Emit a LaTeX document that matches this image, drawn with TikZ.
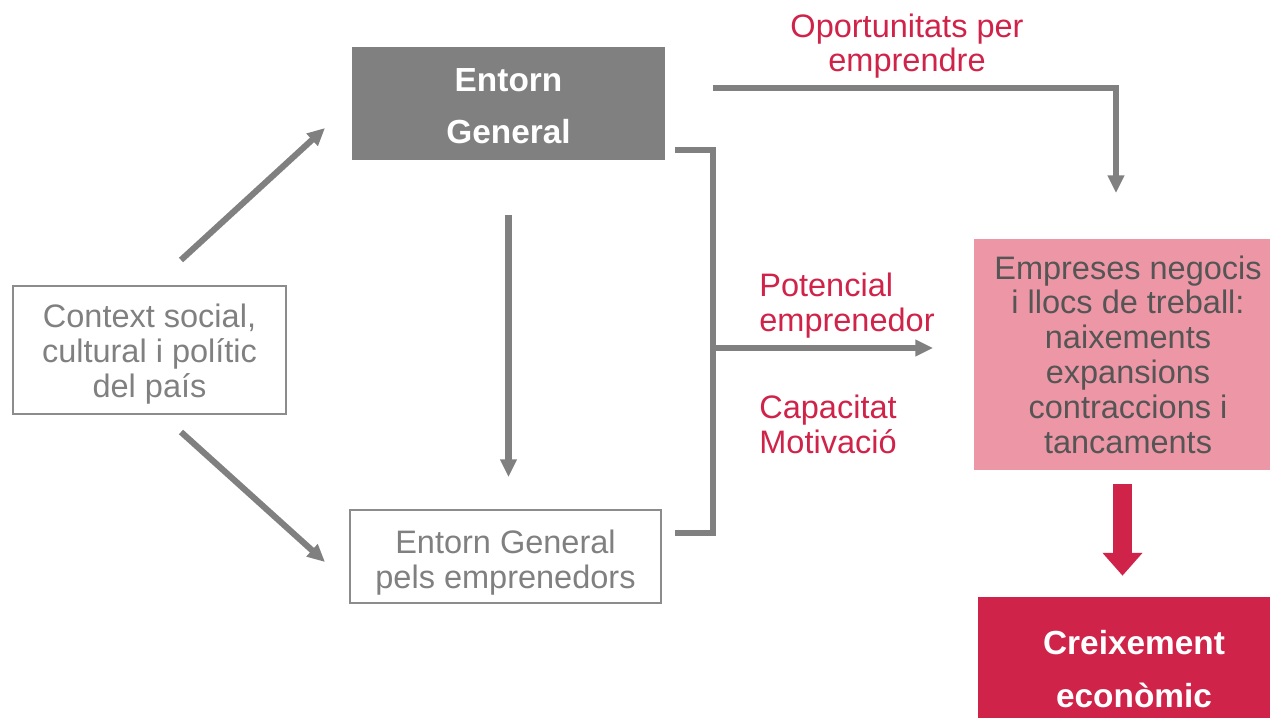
\documentclass[tikz,border=0pt]{standalone}
\usepackage{fontspec}
\setmainfont{Liberation Sans}
\usetikzlibrary{arrows.meta}
\definecolor{egray}{RGB}{128,128,128}
\definecolor{boxgray}{RGB}{140,140,140}
\definecolor{ered}{RGB}{208,35,73}
\definecolor{epink}{RGB}{237,151,166}
\definecolor{etext}{RGB}{85,85,85}
\newcommand{\toppad}[1][20pt]{\rule{0pt}{#1}}

\begin{document}
\begin{tikzpicture}[x=0.02cm,y=-0.02cm,
    darkbox/.style={rectangle,fill=egray,text=white,inner sep=0pt,align=center,
        font=\bfseries\fontsize{19}{30}\selectfont},
    linebox/.style={rectangle,draw=boxgray,line width=1.1pt,text=egray,inner sep=0pt,
        align=center,font=\fontsize{18.5}{19.8}\selectfont},
    redlabel/.style={text=ered,inner sep=0pt,font=\fontsize{18.5}{19.8}\selectfont},
    flow/.style={draw=egray,line width=3.5pt,-{Triangle[length=10pt,width=9pt]}},
    bracket/.style={draw=egray,line width=3.5pt,line join=miter}]
\clip (0,0) rectangle (1270,717);

% Boxes
\node[darkbox,minimum width=6.26cm,minimum height=2.26cm] (eg) at (508.5,103.5) {\toppad[16pt]Entorn\\General};
\node[linebox,minimum width=5.46cm,minimum height=2.56cm] (ctx) at (149.5,350) {\toppad[18pt]Context social,\\cultural i polític\\del país};
\node[linebox,minimum width=6.22cm,minimum height=1.86cm] (pels) at (505.5,556.5) {\toppad Entorn General\\pels emprenedors};
\node[rectangle,fill=epink,text=etext,inner sep=0pt,align=center,font=\fontsize{18.5}{19.8}\selectfont,
    minimum width=6.16cm,minimum height=4.62cm] (emp) at (1128,354.5)
    {Empreses negocis\\i llocs de treball:\\naixements\\expansions\\contraccions i\\tancaments};
\node[darkbox,fill=ered,minimum width=6.24cm,minimum height=2.8cm] (creix) at (1134,667) {\toppad[16pt]Creixement\\econòmic};

% Labels
\node[redlabel,align=center] (oport) at (907,46) {Oportunitats per\\emprendre};
\node[redlabel,align=left,anchor=west] (pot) at (759,305.5) {Potencial\\emprenedor};
\node[redlabel,align=left,anchor=west] (cap) at (759,424.5) {Capacitat\\Motivació};

% Connector ends
\coordinate (up1) at (181,260);
\coordinate (up2) at (325,128);
\coordinate (dn1) at (181,432);
\coordinate (dn2) at (325,562);
\coordinate (br1) at (675,150);
\coordinate (br2) at (675,533);
\coordinate (brm) at (713,348);
\coordinate (brend) at (933,348);
\coordinate (op1) at (713,88);
\coordinate (op2) at (1116,193);

% Arrows
\draw[flow] (up1) -- (up2);
\draw[flow] (dn1) -- (dn2);
\draw[flow,shorten <=1.1cm,shorten >=0.64cm] (eg.south) -- (eg.south |- pels.north);
\draw[bracket] (br1) -| (brm) |- (br2);
\draw[flow] (brm) -- (brend);
\draw[flow,line join=miter] (op1) -| (op2);
\draw[draw=ered,line width=10.8pt,-{Triangle[length=13pt,width=22pt]},
    shorten <=0.28cm,shorten >=0.42cm] (emp.south -| 1122.5,0) -- (creix.north -| 1122.5,0);
\end{tikzpicture}
\end{document}
